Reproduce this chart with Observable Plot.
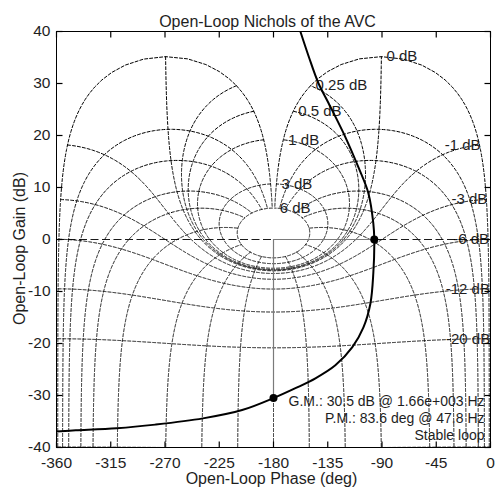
<!DOCTYPE html>
<html><head><meta charset="utf-8">
<script src="https://cdn.jsdelivr.net/npm/d3@7"></script>
<script src="https://cdn.jsdelivr.net/npm/@observablehq/plot@0.6"></script>
<style>body{margin:0;background:#fff} svg{display:block}</style>
</head><body><div id="chart"></div>
<script>
// ---- texts ----
const title = "Open-Loop Nichols of the AVC";
const xLabel = "Open-Loop Phase (deg)";
const yLabel = "Open-Loop Gain (dB)";
const marginText = ["G.M.: 30.5 dB @ 1.66e+003 Hz", "P.M.: 83.6 deg @ 47.8 Hz", "Stable loop"];

// ---- axes ----
const xTicks = [-360, -315, -270, -225, -180, -135, -90, -45, 0];
const yTicks = [-40, -30, -20, -10, 0, 10, 20, 30, 40];

// ---- Nichols grid definition (closed-loop gain dB / closed-loop phase deg) ----
const closedLoopGainsDb = [6, 3, 1, 0.5, 0.25, 0, -1, -3, -6, -12, -20, -40];
const labeledGainsDb = [6, 3, 1, 0.5, 0.25, 0, -1, -3, -6, -12, -20];
const closedLoopPhasesDeg = [1, 5, 10, 20, 30, 50, 90, 120, 150, 180];

// ---- open-loop response ----
const loopPhase = [-157.7, -150.8, -142.8, -134.5, -120.4, -109.6, -101.3, -97.2, -96.4, -97.2, -99.6, -105.4, -114.6, -128.7, -145.2, -161.8, -180, -206, -238.5, -278, -310, -344, -360];
const loopGain  = [40, 35.2, 30.1, 26.3, 19.7, 13.9, 8.9, 3.1, 0, -6.5, -12.3, -16.9, -20.7, -24.2, -26.7, -28.6, -30.5, -32.8, -34.4, -35.6, -36.3, -36.7, -36.9];

// ---- stability margins ----
const gmDb = 30.5, gmPhase = -180, pmDeg = 83.6;

// ---- layout ----
const W = 496, H = 494, mT = 31, mB = 47, mL = 56, mR = 6, tickPx = 6;

// ---- build grid from closed-loop relation G = T/(1-T) ----
function olPoint(m, thDeg) {
  const th = thDeg * Math.PI / 180;
  const re = 1 - m * Math.cos(th), im = -m * Math.sin(th);
  return {phase: thDeg - Math.atan2(im, re) * 180 / Math.PI, gain: 20 * Math.log10(m / Math.hypot(re, im))};
}
const mLines = [];
for (const g of closedLoopGainsDb) {
  const m = Math.pow(10, g / 20);
  for (let th = -359; th <= -1.0001 + 0.25; th += 0.25) {
    const t = Math.min(th, -1);
    mLines.push({z: "M" + g, ...olPoint(m, t)});
  }
}
const nLines = [];
for (const p of closedLoopPhasesDeg) {
  const ths = p === 180 ? [-180] : [-p, p - 360];
  for (const th of ths) {
    for (let db = -60; db <= 6.0001; db += 0.05) {
      nLines.push({z: "N" + th, ...olPoint(Math.pow(10, db / 20), th)});
    }
  }
}
const labels = labeledGainsDb.map(g => ({g, text: `${g} dB`, ...olPoint(Math.pow(10, g / 20), -1)}));
const loop = loopPhase.map((p, i) => ({phase: p, gain: loopGain[i]}));
const marginDots = [{phase: gmPhase, gain: -gmDb}, {phase: gmPhase + pmDeg, gain: 0}];

const [x0, x1] = [xTicks[0], xTicks[xTicks.length - 1]];
const [y0, y1] = [yTicks[0], yTicks[yTicks.length - 1]];
// inward tick length converted from pixels to data units
const tdx = tickPx * (x1 - x0) / (W - mL - mR);
const tdy = tickPx * (y1 - y0) / (H - mT - mB);
const tickSegs = [
  ...xTicks.map(x => ({xa: x, xb: x, ya: y0, yb: y0 + tdy})),
  ...xTicks.map(x => ({xa: x, xb: x, ya: y1, yb: y1 - tdy})),
  ...yTicks.map(y => ({xa: x0, xb: x0 + tdx, ya: y, yb: y})),
  ...yTicks.map(y => ({xa: x1, xb: x1 - tdx, ya: y, yb: y}))
];

const font = "Liberation Sans, Arial, Helvetica, sans-serif";
const txt = "#1e1e1e";
const gridStyle = {stroke: "#000", strokeWidth: 1, strokeDasharray: "3,2", strokeOpacity: 1, clip: true};
const fmt = d => String(d);

const chart = Plot.plot({
  width: W, height: H,
  marginTop: mT, marginBottom: mB, marginLeft: mL, marginRight: mR,
  style: {fontFamily: font, fontSize: "16px", background: "#fff", color: txt},
  x: {domain: [x0, x1]},
  y: {domain: [y0, y1]},
  marks: [
    Plot.line(mLines, {x: "phase", y: "gain", z: "z", ...gridStyle}),
    Plot.line(nLines, {x: "phase", y: "gain", z: "z", ...gridStyle}),
    Plot.text(labels.filter(d => d.g >= 0), {x: "phase", y: "gain", text: "text", textAnchor: "start", dx: 5, fontSize: 15, fill: txt}),
    Plot.text(labels.filter(d => d.g < 0), {x: "phase", y: "gain", text: "text", textAnchor: "end", dx: 1, fontSize: 15, fill: txt}),
    Plot.ruleY([0], {stroke: "#000", strokeWidth: 0.9, strokeDasharray: "8,3.5"}),
    Plot.ruleX([gmPhase], {y1: 0, y2: -gmDb, stroke: "#7a7a7a", strokeWidth: 1.2}),
    Plot.ruleY([0], {x1: gmPhase, x2: gmPhase + pmDeg, stroke: "#7a7a7a", strokeWidth: 1.2}),
    Plot.line(loop, {x: "phase", y: "gain", stroke: "#000", strokeWidth: 2, curve: "catmull-rom", clip: true}),
    Plot.dot(marginDots, {x: "phase", y: "gain", r: 4, fill: "#000"}),
    Plot.text([marginText.join("\n")], {frameAnchor: "bottom-right", textAnchor: "end", lineAnchor: "bottom", lineHeight: 1.2, dx: -6, dy: -8, fontSize: 14, fill: txt}),
    Plot.frame({stroke: "#000", strokeWidth: 1}),
    Plot.link(tickSegs, {x1: "xa", y1: "ya", x2: "xb", y2: "yb", stroke: "#000", strokeWidth: 1.2}),
    Plot.axisX(xTicks, {anchor: "bottom", tickSize: 0, tickPadding: 9, tickFormat: fmt, fontSize: 15.5, fill: txt, label: null}),
    Plot.axisY(yTicks, {anchor: "left", tickSize: 0, tickPadding: 6, tickFormat: fmt, fontSize: 15.5, fill: txt, label: null}),
    Plot.text([title], {frameAnchor: "top", dy: -16, dx: -6, fontSize: 16, fill: txt}),
    Plot.text([xLabel], {frameAnchor: "bottom", dy: 36, dx: -2, fontSize: 16, fill: txt}),
    Plot.text([yLabel], {frameAnchor: "left", textAnchor: "middle", rotate: -90, dx: -37, dy: 9, fontSize: 16, fill: txt})
  ]
});
document.getElementById("chart").appendChild(chart);
</script>
</body></html>
